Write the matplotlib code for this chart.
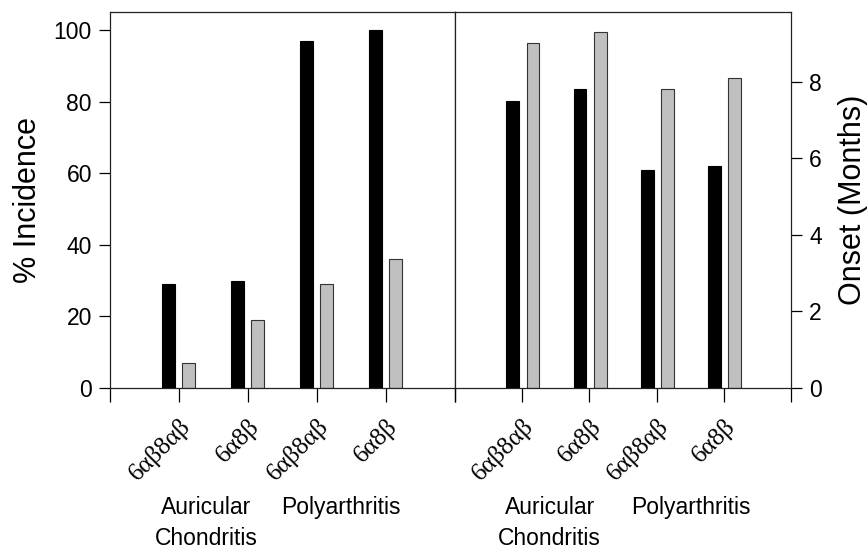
import matplotlib
matplotlib.use("Agg")
import matplotlib.pyplot as plt
import numpy as np

plt.rcParams['font.family'] = ['Liberation Sans', 'DejaVu Sans']

cats = ['6αβ8αβ', '6α8β', '6αβ8αβ', '6α8β']
groups = ['Auricular\nChondritis', 'Polyarthritis']

incidence_black = [29, 30, 97, 100]
incidence_gray = [7, 19, 29, 36]
onset_black = [7.5, 7.8, 5.7, 5.8]
onset_gray = [9.0, 9.3, 7.8, 8.1]

fig = plt.figure(figsize=(8.67, 5.5), dpi=100)
ax = fig.add_axes([0.1269, 0.2945, 0.3979, 0.6836])
ax2 = fig.add_axes([0.5248, 0.2945, 0.3875, 0.6836])

x = np.arange(1, 5)
w = 0.19
gray = '#c0c0c0'

ax.bar(x - 0.15, incidence_black, w, color='black', edgecolor='black', linewidth=0.8)
ax.bar(x + 0.14, incidence_gray, w, color=gray, edgecolor='#333333', linewidth=0.8)
ax2.bar(x - 0.14, onset_black, w, color='black', edgecolor='black', linewidth=0.8)
ax2.bar(x + 0.16, onset_gray, w, color=gray, edgecolor='#333333', linewidth=0.8)

ax.set_xlim(0, 5)
ax.set_ylim(0, 105)
ax2.set_xlim(0, 5)
ax2.set_ylim(0, 9.82)

for a in (ax, ax2):
    for s in a.spines.values():
        s.set_linewidth(0.9)
        s.set_color('#222222')
    a.set_xticks(x)
    a.set_xticklabels(cats, rotation=45, ha='right', va='top', rotation_mode='anchor',
                      fontsize=18, family=['Liberation Serif', 'DejaVu Serif'])
    a.set_xticks([0, 5], minor=True)
    a.tick_params(axis='x', which='both', direction='out', length=10, width=0.9, pad=9)

ax.set_yticks([0, 20, 40, 60, 80, 100])
ax.tick_params(axis='y', direction='out', length=8, width=0.9, labelsize=16.5, pad=5)
ax.set_ylabel('% Incidence', fontsize=22, labelpad=8)

ax2.yaxis.tick_right()
ax2.yaxis.set_label_position('right')
ax2.set_yticks([0, 2, 4, 6, 8])
ax2.tick_params(axis='y', direction='out', length=8, width=0.9, labelsize=16.5, pad=5)
ax2.set_ylabel('Onset (Months)', fontsize=22, labelpad=12)

for a, xs in ((ax, (1.39, 3.35)), (ax2, (1.41, 3.51))):
    a.text(xs[0], -0.319, 'Auricular', transform=a.get_xaxis_transform(),
           ha='center', va='center', fontsize=16.5)
    a.text(xs[0], -0.399, 'Chondritis', transform=a.get_xaxis_transform(),
           ha='center', va='center', fontsize=16.5)
    a.text(xs[1], -0.319, 'Polyarthritis', transform=a.get_xaxis_transform(),
           ha='center', va='center', fontsize=16.5)

plt.savefig('out.png', dpi=100)
